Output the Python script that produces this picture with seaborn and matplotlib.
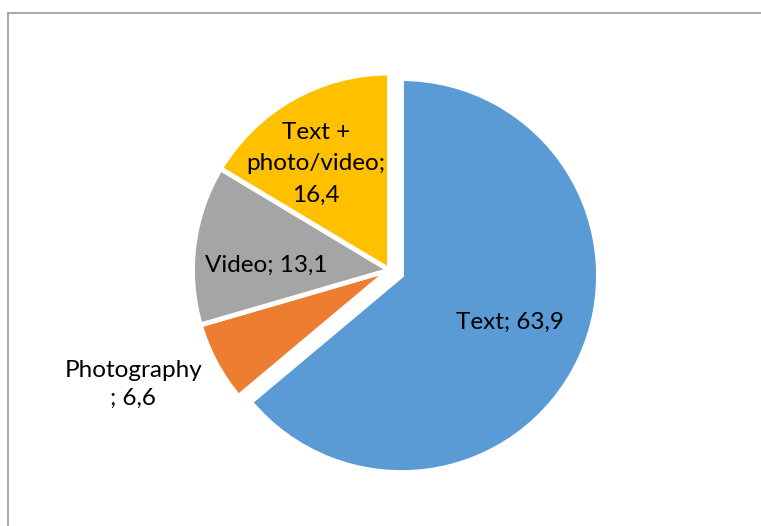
import numpy as np
import matplotlib
matplotlib.use("Agg")
import matplotlib.pyplot as plt
import seaborn as sns
from matplotlib.lines import Line2D

categories = ["Text", "Photography", "Video", "Text + photo/video"]
values = [63.9, 6.6, 13.1, 16.4]
label_texts = ["Text; 63,9", "Photography\n; 6,6", "Video; 13,1", "Text +\nphoto/video;\n16,4"]
colors = ["#5B9BD5", "#ED7D31", "#A5A5A5", "#FFC000"]
explode = [0.067, 0.0, 0.0, 0.0]

sns.set_theme(style="white")
plt.rcParams['font.family'] = ['Lato', 'DejaVu Sans']

W, H = 761, 526
fig = plt.figure(figsize=(W / 100, H / 100), dpi=100)
ax = fig.add_axes([0, 0, 1, 1])
R = 197.0
cx, cy = 389.5, 270.0
ax.axis("off")

wedges, _ = ax.pie(values, colors=colors, startangle=90, counterclock=False,
                   explode=explode, radius=1.0,
                   wedgeprops=dict(edgecolor="white", linewidth=3.5))
ax.set_xlim(-cx / R, (W - cx) / R)
ax.set_ylim(-(H - cy) / R, cy / R)
ax.set_aspect("auto")

# label placement: distance from slice centre (in radii) and angle nudge (deg)
dists = [0.6, 1.425, 0.627, 0.655]
nudges = [1.5, -4.0, 5.0, 5.2]
spacings = [1.6, 1.4, 1.6, 1.6]
for w, lab, d, nd, ls in zip(wedges, label_texts, dists, nudges, spacings):
    ang = np.deg2rad((w.theta1 + w.theta2) / 2 + nd)
    x0, y0 = w.center
    x = x0 + d * np.cos(ang)
    y = y0 + d * np.sin(ang)
    ax.text(x, y, lab, ha="center", va="center", fontsize=17.5, color="black",
            linespacing=ls)

# chart frame (extends beyond the image at right and bottom)
fig.add_artist(Line2D([7.5 / W, 1.0], [1 - 12.5 / H, 1 - 12.5 / H], transform=fig.transFigure,
                      color="#9A9A9A", linewidth=1.2))
fig.add_artist(Line2D([7.5 / W, 7.5 / W], [0, 1 - 12.5 / H], transform=fig.transFigure,
                      color="#9A9A9A", linewidth=1.2))

fig.savefig("out.png", dpi=100, facecolor="white")
